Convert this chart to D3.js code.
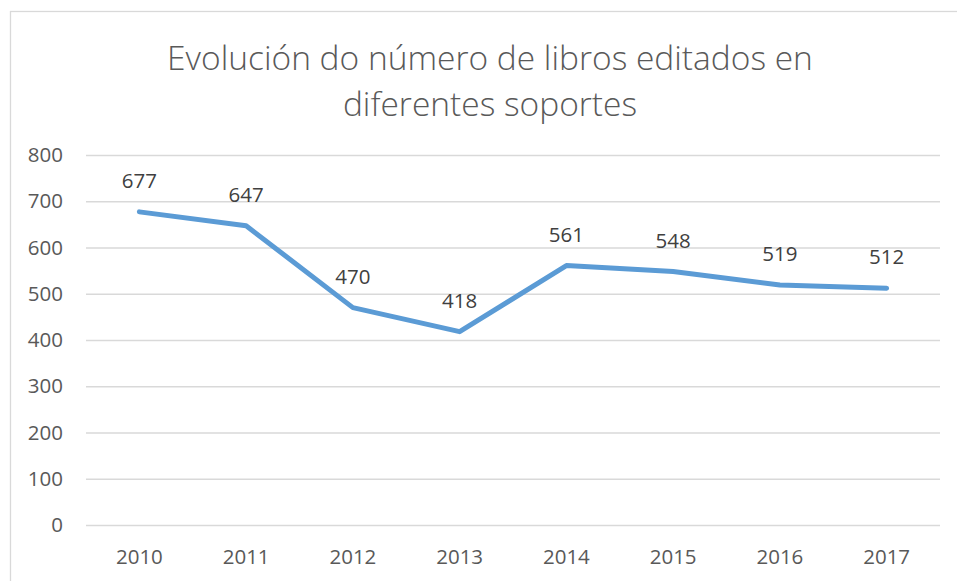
<!DOCTYPE html>
<html lang="es">
<head>
<meta charset="UTF-8">
<title>Evolución do número de libros</title>
<script src="https://cdn.jsdelivr.net/npm/d3@7"></script>
<style>
  body { margin: 0; background: #fff; }
  svg text { font-family: "Open Sans", "Noto Sans", sans-serif; }
  .grid line { stroke: #d9d9d9; stroke-width: 1.3; }
  .tick text { fill: #595959; font-size: 20.5px; }
</style>
</head>
<body>
<script>
// data
var years = ["2010", "2011", "2012", "2013", "2014", "2015", "2016", "2017"];
var books = [677, 647, 470, 418, 561, 548, 519, 512];
var yTicks = [0, 100, 200, 300, 400, 500, 600, 700, 800];
var titleLines = ["Evolución do número de libros editados en", "diferentes soportes"];

var width = 957, height = 581;
var svg = d3.select("body").append("svg").attr("width", width).attr("height", height);

// chart frame (cut off at right and bottom as in the original)
svg.append("rect")
  .attr("x", 10.5).attr("y", 11.5)
  .attr("width", 960).attr("height", 600)
  .attr("fill", "#fff").attr("stroke", "#d9d9d9").attr("stroke-width", 1.3);

var x = d3.scaleBand().domain(years).range([86, 940]);
var y = d3.scaleLinear().domain([0, 800]).range([525, 155]);

// title
svg.append("g").selectAll("text")
  .data(titleLines)
  .enter().append("text")
    .attr("x", 490)
    .attr("y", function(d, i) { return 70 + i * 46; })
    .attr("text-anchor", "middle")
    .attr("fill", "#595959")
    .style("font-size", "33.5px")
    .style("font-weight", 300)
    .text(function(d) { return d; });

// gridlines + y labels
var yAxis = svg.append("g").attr("class", "grid")
  .attr("transform", "translate(86,0)")
  .call(d3.axisLeft(y).tickValues(yTicks).tickSize(-854).tickPadding(23));
yAxis.select(".domain").remove();

// x labels
var xAxis = svg.append("g").attr("class", "xaxis")
  .attr("transform", "translate(0,525)")
  .call(d3.axisBottom(x).tickSize(0).tickPadding(24));
xAxis.select(".domain").remove();
xAxis.selectAll(".tick text").attr("fill", "#595959");

// line
var line = d3.line()
  .x(function(d, i) { return x(years[i]) + x.bandwidth() / 2; })
  .y(function(d) { return y(d); });

svg.append("path")
  .datum(books)
  .attr("d", line)
  .attr("fill", "none")
  .attr("stroke", "#5b9bd5")
  .attr("stroke-width", 5)
  .attr("stroke-linecap", "round")
  .attr("stroke-linejoin", "round");

// data labels
svg.append("g").selectAll("text")
  .data(books)
  .enter().append("text")
    .attr("x", function(d, i) { return x(years[i]) + x.bandwidth() / 2; })
    .attr("y", function(d) { return y(d) - 24; })
    .attr("text-anchor", "middle")
    .attr("fill", "#404040")
    .style("font-size", "20.5px")
    .text(function(d) { return d; });
</script>
</body>
</html>
